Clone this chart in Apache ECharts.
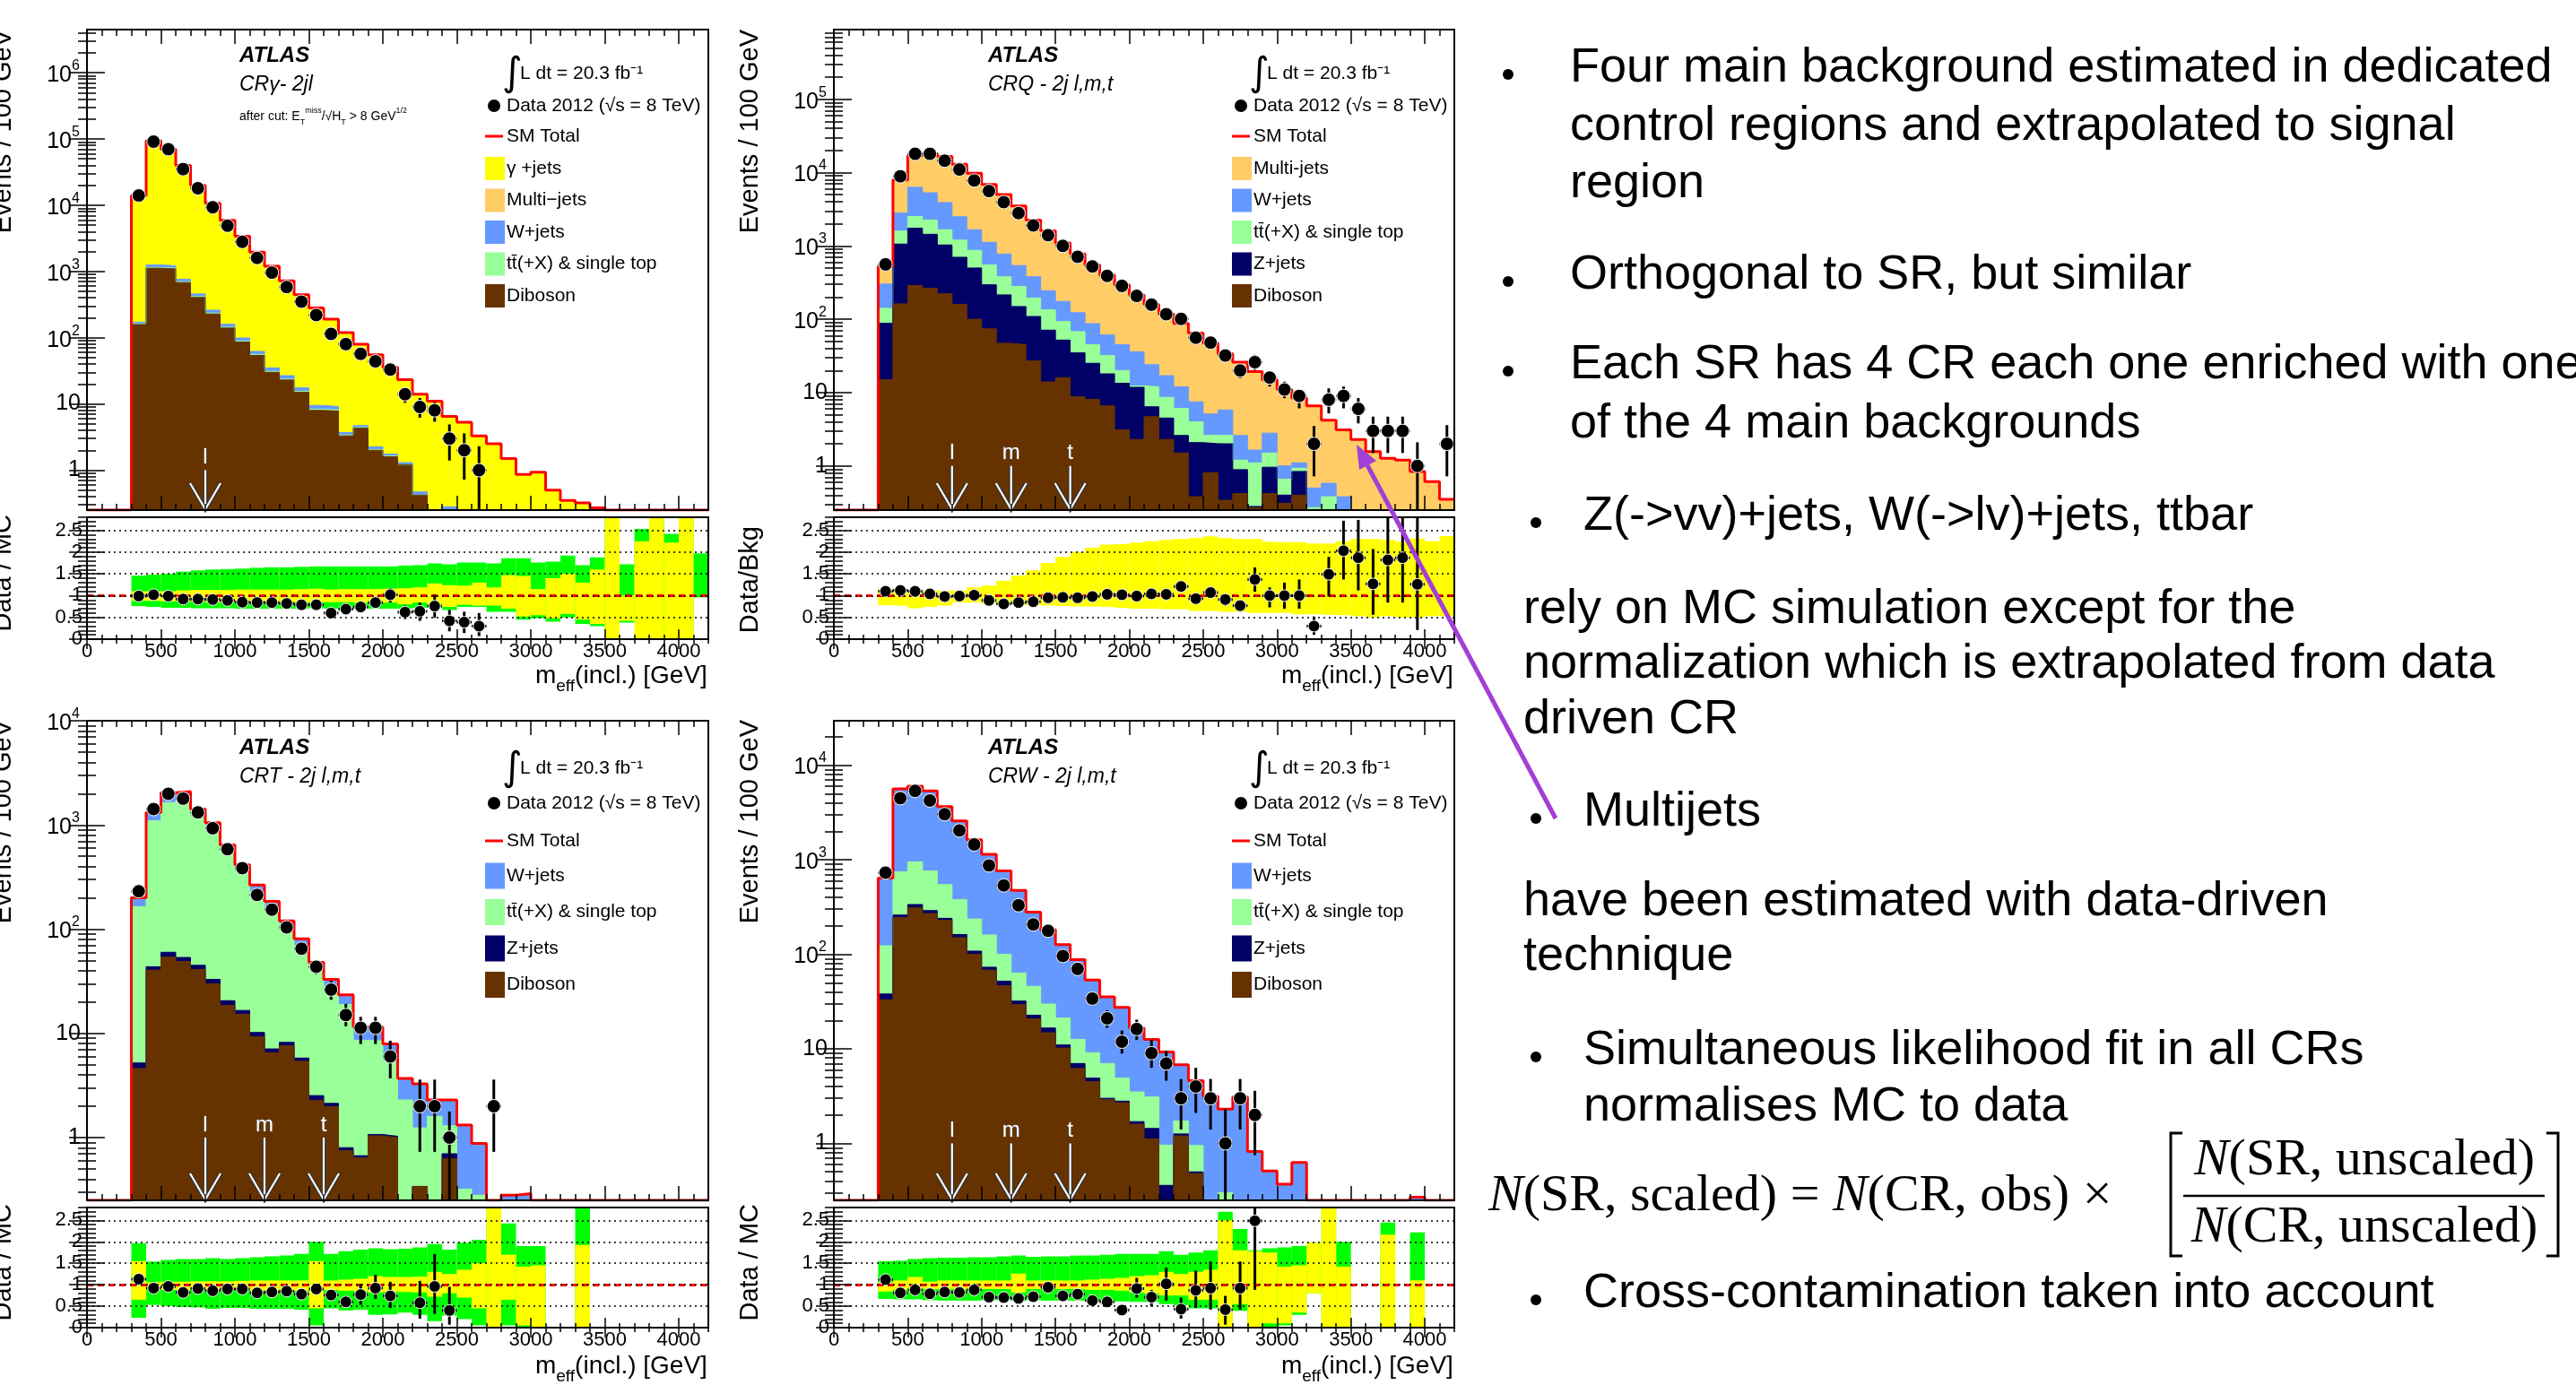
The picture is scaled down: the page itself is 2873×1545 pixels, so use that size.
<!DOCTYPE html>
<html>
<head>
<meta charset="utf-8">
<title>ATLAS control regions</title>
<script src="https://cdn.jsdelivr.net/npm/echarts@6.0.0/dist/echarts.min.js"></script>
<style>
  html, body { margin: 0; padding: 0; background: #fff; }
  #main { width: 2873px; height: 1545px; }
</style>
</head>
<body>
<div id="main"></div>
<script>
const _ = null;

// lower edge of every 100 GeV bin that has content (300 .. 4100 GeV)
const BIN_LO = [300, 400, 500, 600, 700, 800, 900, 1000, 1100, 1200,
  1300, 1400, 1500, 1600, 1700, 1800, 1900, 2000, 2100, 2200,
  2300, 2400, 2500, 2600, 2700, 2800, 2900, 3000, 3100, 3200,
  3300, 3400, 3500, 3600, 3700, 3800, 3900, 4000, 4100];
const X_TICKS = [0, 500, 1000, 1500, 2000, 2500, 3000, 3500, 4000];
const RATIO_TICKS = [0, 0.5, 1, 1.5, 2, 2.5];
const CUTS = [800, 1200, 1600];
const CUT_NAMES = ['l', 'm', 't'];

// ---- CR gamma - 2jl ----
const crgDiboson = [158, 1120, 1090, 680, 405, 228, 140, 86, 54, 30,
  23, 15, 8, 7.8, 3.3, 4.3, 2, 1.6, 1.2, 0.42,
  0, 0, 0, 0, 0, 0, 0, 0, 0, 0,
  0, 0, 0, 0, 0, 0, 0, 0, 0];
const crgTtbar = [4, 30, 30, 20, 12, 7, 4, 3, 2, 1,
  0.7, 0.5, 0.3, 0.3, 0.1, 0.1, 0.05, 0.05, 0, 0,
  0, 0, 0, 0, 0, 0, 0, 0, 0, 0,
  0, 0, 0, 0, 0, 0, 0, 0, 0];
const crgWjets = [10, 100, 100, 60, 40, 25, 15, 10, 6, 4,
  3, 2, 1.2, 1, 0.3, 0.3, 0.2, 0.1, 0.1, 0.05,
  0, 0.28, 0, 0, 0, 0, 0, 0, 0, 0,
  0, 0, 0, 0, 0, 0, 0, 0, 0];
const crgGamma = [13800, 92800, 68800, 39200, 19500, 10400, 5740, 3300, 1890, 1165,
  693, 428, 271, 181, 116, 75, 53, 34, 22, 13.5,
  11, 6.2, 5.3, 3.3, 2.5, 1.5, 0.86, 0.93, 0.5, 0.35,
  0.32, 0.27, 0, 0, 0, 0, 0, 0, 0];
const crgData = [14000, 91000, 70000, 35000, 18000, 9300, 4900, 2800, 1600, 960,
  580, 350, 220, 114, 80, 57, 44, 33, 14, 9,
  8, 3, 2, 1, _, _, _, _, _, _,
  _, _, _, _, _, _, _, _, _];
const crgDataLo = [_, _, _, _, _, _, _, _, _, _,
  _, _, _, _, _, 50, 37.5, 27, 10.4, 6.2,
  5.4, 1.4, 0.72, 0, _, _, _, _, _, _,
  _, _, _, _, _, _, _, _, _];
const crgDataHi = [_, _, _, _, _, _, _, _, _, _,
  _, _, _, _, _, 65, 51, 39, 17.5, 12.3,
  10.5, 4.9, 3.6, 2.3, _, _, _, _, _, _,
  _, _, _, _, _, _, _, _, _];
const crgRatio = [0.99, 1.02, 0.99, 0.92, 0.92, 0.91, 0.89, 0.85, 0.84, 0.84,
  0.82, 0.79, 0.79, 0.60, 0.69, 0.74, 0.84, 1.02, 0.62, 0.64,
  0.76, 0.42, 0.39, 0.30, _, _, _, _, _, _,
  _, _, _, _, _, _, _, _, _];
const crgRatioLo = [_, _, _, _, _, _, _, _, _, _,
  _, _, _, 0.56, 0.63, 0.68, 0.78, 0.84, 0.46, 0.42,
  0.49, 0.18, 0.14, 0.07, _, _, _, _, _, _,
  _, _, _, _, _, _, _, _, _];
const crgRatioHi = [_, _, _, _, _, _, _, _, _, _,
  _, _, _, 0.65, 0.76, 0.80, 0.90, 1.17, 0.77, 0.84,
  1.02, 0.67, 0.63, 0.60, _, _, _, _, _, _,
  _, _, _, _, _, _, _, _, _];
const crgGreenLo = [0.76, 0.74, 0.72, 0.72, 0.71, 0.71, 0.71, 0.70, 0.70, 0.70,
  0.70, 0.70, 0.71, 0.70, 0.70, 0.70, 0.70, 0.70, 0.70, 0.72,
  0.74, 0.67, 0.74, 0.74, 0.63, 0.63, 0.45, 0.48, 0.40, 0.50,
  0.35, 0.30, 0, 0.38, 0.38, 0, 0, 0, 0.96];
const crgGreenHi = [1.46, 1.48, 1.50, 1.55, 1.58, 1.60, 1.61, 1.62, 1.64, 1.65,
  1.65, 1.66, 1.67, 1.67, 1.67, 1.67, 1.67, 1.67, 1.69, 1.70,
  1.74, 1.72, 1.76, 1.76, 1.74, 1.86, 1.86, 1.76, 1.78, 1.92,
  1.70, 1.88, 2.8, 1.72, 2.53, 2.8, 2.42, 2.8, 1.97];
const crgYellowLo = [0.88, 0.88, 0.87, 0.87, 0.87, 0.85, 0.85, 0.85, 0.85, 0.85,
  0.85, 0.85, 0.85, 0.85, 0.85, 0.84, 0.84, 0.84, 0.80, 0.84,
  0.79, 0.74, 0.79, 0.77, 0.77, 0.70, 0.52, 0.55, 0.48, 0.58,
  0.45, 0.35, 0, 0.42, 0, 0, 0, 0, _];
const crgYellowHi = [1.10, 1.10, 1.10, 1.12, 1.13, 1.13, 1.13, 1.14, 1.14, 1.14,
  1.14, 1.15, 1.16, 1.14, 1.15, 1.15, 1.15, 1.16, 1.17, 1.19,
  1.28, 1.24, 1.23, 1.30, 1.19, 1.47, 1.45, 1.15, 1.40, 1.50,
  1.30, 1.60, 2.8, 1.0, 2.25, 2.8, 2.22, 2.8, _];

// ---- CRQ - 2j l,m,t ----
const crqDiboson = [15, 162, 288, 265, 223, 160, 100, 74, 47, 45,
  27, 14, 16, 8.8, 8.1, 6.6, 3.1, 2.3, 4.7, 2.3,
  1.5, 0.38, 0.81, 0.34, 0.42, 0.27, 0.42, 0.31, 0.40, 0,
  0, 0, 0, 0, 0, 0, 0, 0, 0];
const crqZjets = [73, 898, 1452, 1175, 807, 540, 400, 221, 168, 104,
  82, 57, 36, 26, 17, 11.4, 10.3, 9.5, 1.7, 2.2,
  1.1, 1.7, 1.2, 1.66, 0.47, 0.01, 0.54, 0.09, 0.44, 0,
  0, 0, 0, 0, 0, 0, 0, 0, 0];
const crqTtbar = [53, 530, 770, 810, 630, 500, 370, 255, 165, 131,
  85, 63, 41, 33, 20, 14, 6.6, 0.5, 5.6, 4.1,
  3.5, 1.9, 0.6, 0.6, 0.31, 0.82, 0.54, 0.26, 0.09, 0.27,
  0.38, 0.25, 0, 0, 0, 0, 0, 0, 0];
const crqWjets = [161, 1210, 3790, 3050, 2240, 1300, 790, 570, 395, 260,
  186, 111, 82, 55, 42, 29, 25, 23.7, 12, 8.4,
  5.9, 3.5, 2.5, 3.2, 1.4, 0.55, 1.3, 0.34, 0.17, 0.23,
  0.2, 0.13, 0, 0, 0, 0, 0, 0, 0];
const crqMultijet = [223, 5100, 10700, 12700, 12700, 10500, 8140, 5780, 4225, 2960,
  1870, 1355, 925, 657, 463, 339, 250, 179, 134, 101,
  76, 57.5, 41.9, 28.2, 23.4, 17.75, 12.1, 10, 7.3, 6.1,
  3.62, 2.72, 2.3, 1.57, 1.27, 1.2, 0.84, 0.61, 0.35];
const crqData = [560, 8900, 18000, 18000, 14500, 11000, 7800, 5600, 3950, 2800,
  1900, 1400, 1000, 710, 525, 390, 285, 208, 158, 117,
  101, 56, 48, 32, 20, 26, 16, 11, 9, 2,
  8, 9, 6, 3, 3, 3, 1, _, 2];
const crqDataLo = [_, _, _, _, _, _, _, _, _, _,
  _, _, _, _, _, _, _, _, _, _,
  _, 48, 41, 27, 15.7, 20.4, 12.1, 8.4, 6.1, 0.72,
  5.2, 6.1, 3.8, 1.5, 1.5, 1.5, 0, _, 0.72];
const crqDataHi = [_, _, _, _, _, _, _, _, _, _,
  _, _, _, _, _, _, _, _, _, _,
  _, 64, 55, 38, 25, 32.7, 19.4, 14.1, 10.9, 3.5,
  11.4, 12.1, 8.4, 4.7, 4.7, 4.7, 2.1, _, 3.6];
const crqRatio = [1.10, 1.12, 1.10, 1.04, 0.98, 0.99, 1.01, 0.89, 0.81, 0.84,
  0.86, 0.95, 0.96, 0.95, 0.98, 1.03, 1.02, 0.99, 1.04, 1.03,
  1.21, 0.93, 1.07, 0.91, 0.77, 1.37, 1.0, 1.0, 1.0, 0.30,
  1.49, 2.03, 1.87, 1.27, 1.82, 1.87, 1.26, _, _];
const crqRatioLo = [_, _, _, _, _, _, _, _, _, _,
  _, _, _, _, _, _, _, _, _, _,
  1.12, 0.85, 0.96, 0.77, 0.63, 1.09, 0.73, 0.70, 0.70, 0.10,
  0.98, 1.37, 1.12, 0.56, 0.84, 0.84, 0.21, _, _];
const crqRatioHi = [_, _, _, _, _, _, _, _, _, _,
  _, _, _, _, _, _, _, _, _, _,
  1.30, 1.00, 1.17, 1.05, 0.88, 1.65, 1.19, 1.30, 1.37, 0.52,
  1.89, 2.72, 2.74, 2.07, 2.8, 2.8, 2.8, _, _];
const crqBandLo = [0.78, 0.77, 0.71, 0.74, 0.77, 0.84, 0.84, 0.82, 0.81, 0.79,
  0.78, 0.77, 0.76, 0.75, 0.75, 0.74, 0.72, 0.70, 0.70, 0.69,
  0.69, 0.65, 0.65, 0.63, 0.63, 0.60, 0.60, 0.60, 0.57, 0.57,
  0.56, 0.55, 0.53, 0.50, 0.53, 0.50, 0.50, 0.53, 0.53];
const crqBandHi = [1.16, 1.16, 1.12, 1.12, 1.11, 1.12, 1.19, 1.23, 1.34, 1.46,
  1.58, 1.75, 1.89, 2.0, 2.1, 2.17, 2.19, 2.22, 2.25, 2.28,
  2.30, 2.32, 2.36, 2.32, 2.30, 2.30, 2.24, 2.23, 2.23, 2.2,
  2.2, 2.25, 2.3, 2.3, 2.28, 2.24, 2.31, 2.25, 2.37];

// ---- CRT - 2j l,m,t ----
const crtDiboson = [4.6, 40.5, 54, 49, 41, 30, 18.6, 15.3, 9.3, 6.5,
  7.6, 5.4, 2.28, 1.98, 0.75, 0.64, 1.04, 1.0, 0, 0.34,
  0, 0.63, 0, 0, 0, 0, 0, 0, 0, 0,
  0, 0, 0, 0, 0, 0, 0, 0, 0];
const crtZjets = [0.6, 3.1, 6, 4.5, 4, 3, 2, 1.3, 0.9, 0.6,
  0.6, 0.4, 0.25, 0.15, 0.05, 0.03, 0.03, 0.03, 0, 0,
  0, 0.07, 0, 0, 0, 0, 0, 0, 0, 0,
  0, 0, 0, 0, 0, 0, 0, 0, 0];
const crtTtbar = [159, 1056, 1580, 1686, 1155, 867, 534, 338, 215, 150,
  94, 63, 38.5, 25.9, 18.1, 7.9, 7.4, 4.4, 2.3, 0.9,
  1.6, 0.6, 0.32, 0.28, 0, 0, 0, 0, 0, 0,
  0, 0, 0, 0, 0, 0, 0, 0, 0];
const crtWjets = [36, 220, 400, 350, 220, 150, 90, 60, 40, 28,
  18, 12, 7, 5, 4.5, 3, 3, 2.5, 1.4, 2.05,
  0.7, 1.0, 1.0, 0.6, 0, 0.28, 0.29, 0, 0, 0,
  0, 0, 0, 0, 0, 0, 0, 0, 0];
const crtData = [231, 1420, 1990, 1790, 1320, 930, 585, 385, 213, 154,
  104, 65, 43.6, 26.3, 15, 11.3, 11.3, 6, _, 2,
  2, 1, _, _, 2, _, _, _, _, _,
  _, _, _, _, _, _, _, _, _];
const crtDataLo = [_, _, _, _, _, _, _, _, _, _,
  _, _, 37, 21, 11.7, 7.9, 7.9, 3.7, _, 0.73,
  0.73, 0, _, _, 0.73, _, _, _, _, _,
  _, _, _, _, _, _, _, _, _];
const crtDataHi = [_, _, _, _, _, _, _, _, _, _,
  _, _, 50, 32, 19.2, 14.4, 14.4, 8.5, _, 3.6,
  3.6, 1.78, _, _, 3.6, _, _, _, _, _,
  _, _, _, _, _, _, _, _, _];
const crtRatio = [1.13, 0.92, 0.96, 0.82, 0.91, 0.86, 0.90, 0.90, 0.81, 0.83,
  0.85, 0.78, 0.90, 0.76, 0.60, 0.77, 0.92, 0.74, _, 0.58,
  0.96, 0.40, _, _, _, _, _, _, _, _,
  _, _, _, _, _, _, _, _, _];
const crtRatioLo = [_, _, _, _, _, _, _, _, _, _,
  _, 0.70, 0.80, 0.64, 0.46, 0.53, 0.67, 0.46, _, 0.21,
  0.32, 0.07, _, _, _, _, _, _, _, _,
  _, _, _, _, _, _, _, _, _];
const crtRatioHi = [_, _, _, _, _, _, _, _, _, _,
  _, 0.86, 1.00, 0.88, 0.74, 1.02, 1.23, 1.07, _, 1.09,
  1.72, 0.95, _, _, _, _, _, _, _, _,
  _, _, _, _, _, _, _, _, _];
const crtGreenLo = [0.23, 0.53, 0.50, 0.48, 0.47, 0.44, 0.46, 0.46, 0.44, 0.44,
  0.44, 0.42, 0.05, 0.45, 0.40, 0.42, 0.30, 0.31, 0.35, 0.30,
  0.15, 0.28, 0.20, 0.05, 0, 0.05, 0, 0, _, _,
  0, _, _, _, _, _, _, _, _];
const crtGreenHi = [1.97, 1.54, 1.58, 1.60, 1.60, 1.62, 1.60, 1.62, 1.64, 1.66,
  1.68, 1.72, 2.0, 1.72, 1.78, 1.82, 1.85, 1.83, 1.84, 1.87,
  1.95, 1.82, 1.98, 2.05, 2.8, 2.43, 1.9, 1.9, _, _,
  2.8, _, _, _, _, _, _, _, _];
const crtYellowLo = [0.65, 0.88, 0.88, 0.88, 0.88, 0.87, 0.87, 0.87, 0.87, 0.86,
  0.86, 0.86, 0.45, 0.88, 0.86, 0.85, 0.82, 0.84, 0.83, 0.82,
  0.72, 0.80, 0.70, 0.45, 0, 0.65, 0.05, 0, _, _,
  0, _, _, _, _, _, _, _, _];
const crtYellowHi = [1.55, 1.06, 1.07, 1.07, 1.08, 1.08, 1.08, 1.09, 1.10, 1.10,
  1.10, 1.10, 1.55, 1.10, 1.12, 1.14, 1.20, 1.18, 1.18, 1.19,
  1.30, 1.25, 1.35, 1.50, 2.8, 1.70, 1.42, 1.45, _, _,
  1.93, _, _, _, _, _, _, _, _];

// ---- CRW - 2j l,m,t ----
const crwDiboson = [33, 245, 310, 270, 228, 150, 100, 68, 46.5, 29.4,
  20.8, 14.8, 10.2, 6.2, 4.5, 2.9, 2.7, 1.6, 1.12, 0,
  1.2, 0.48, 0, 0, 0, 0, 0, 0, 0, 0,
  0, 0, 0, 0, 0, 0, 0, 0, 0];
const crwZjets = [5, 15, 26, 20, 12, 12, 8, 5, 5.5, 2.6,
  1.9, 1.8, 0.8, 0.8, 0.4, 0.1, 0.1, 0.1, 0.32, 0.36,
  0.06, 0.02, 0, 0, 0, 0, 0, 0, 0, 0,
  0, 0, 0, 0, 0, 0, 0, 0, 0];
const crwTtbar = [85, 485, 614, 470, 305, 216, 128, 87, 48, 31.5,
  23.1, 13.2, 10.2, 5.6, 4.2, 4.0, 2.1, 1.8, 1.66, 0.6,
  0.47, 0.45, 0, 0.3, 0, 0, 0, 0, 0, 0,
  0, 0, 0, 0, 0, 0, 0, 0, 0];
const crwWjets = [517, 4855, 5050, 4590, 3095, 2192, 1394, 980, 660, 411.5,
  234, 153, 105, 75.4, 44.4, 28.5, 22.6, 13.1, 9.5, 8.3,
  5.07, 3.65, 3.15, 2.0, 3.1, 0.82, 0.51, 0.37, 0.63, 0,
  0, 0, 0, 0, 0, 0, 0.27, 0, 0];
const crwData = [730, 4470, 5350, 4230, 3030, 2040, 1450, 870, 535, 330,
  207, 177, 96, 70, 34, 21, 11.9, 16.2, 9.0, 7.0,
  3, 4, 3, 1, 3, 2, _, _, _, _,
  _, _, _, _, _, _, _, _, _];
const crwDataLo = [_, _, _, _, _, _, _, _, _, _,
  _, _, _, _, 28.7, 16.7, 8.9, 12.4, 6.3, 4.6,
  1.4, 2.1, 1.4, 0, 1.4, 0.75, _, _, _, _,
  _, _, _, _, _, _, _, _, _];
const crwDataHi = [_, _, _, _, _, _, _, _, _, _,
  _, _, _, _, 39.2, 25.6, 15.6, 20.4, 12.4, 9.5,
  4.8, 6.3, 4.8, 2.3, 4.8, 3.6, _, _, _, _,
  _, _, _, _, _, _, _, _, _];
const crwRatio = [1.12, 0.81, 0.88, 0.79, 0.83, 0.82, 0.88, 0.71, 0.70, 0.68,
  0.72, 0.94, 0.74, 0.78, 0.63, 0.60, 0.41, 0.91, 0.71, 1.02,
  0.43, 0.87, 0.92, 0.42, 0.92, 2.49, _, _, _, _,
  _, _, _, _, _, _, _, _, _];
const crwRatioLo = [_, _, _, _, _, _, _, _, _, _,
  _, _, _, _, 0.56, 0.52, 0.32, 0.70, 0.49, 0.63,
  0.21, 0.46, 0.42, 0.07, 0.42, 0.88, _, _, _, _,
  _, _, _, _, _, _, _, _, _];
const crwRatioHi = [_, _, _, _, _, _, _, _, _, _,
  _, _, _, _, 0.70, 0.68, 0.48, 1.16, 0.88, 1.40,
  0.70, 1.33, 1.54, 0.74, 1.54, 2.8, _, _, _, _,
  _, _, _, _, _, _, _, _, _];
const crwGreenLo = [0.67, 0.66, 0.66, 0.64, 0.63, 0.63, 0.63, 0.64, 0.64, 0.62,
  0.64, 0.63, 0.63, 0.63, 0.62, 0.62, 0.61, 0.60, 0.60, 0.55,
  0.52, 0.45, 0.45, 0, 0.39, 0, 0, 0.05, 0.3, 0.8,
  0, 0, _, _, 0, _, 0, _, _];
const crwGreenHi = [1.55, 1.56, 1.60, 1.62, 1.63, 1.63, 1.64, 1.64, 1.66, 1.68,
  1.65, 1.66, 1.66, 1.68, 1.68, 1.70, 1.72, 1.72, 1.72, 1.78,
  1.70, 1.75, 1.80, 2.7, 2.3, 1.8, 1.85, 1.87, 1.9, 1.98,
  2.8, 2.0, _, _, 2.45, _, 2.22, _, _];
const crwYellowLo = [0.84, 0.88, 0.85, 0.9, 0.9, 0.9, 0.9, 0.9, 0.9, 0.82,
  0.9, 0.9, 0.9, 0.9, 0.88, 0.88, 0.86, 0.82, 0.80, 0.75,
  0.75, 0.65, 0.65, 0, 0.55, 0, 0.1, 0.1, 0.35, 0.8,
  0, 0, _, _, 0, _, 0, _, _];
const crwYellowHi = [1.05, 1.1, 1.18, 1.07, 1.1, 1.1, 1.1, 1.1, 1.1, 1.26,
  1.1, 1.1, 1.1, 1.1, 1.12, 1.14, 1.16, 1.2, 1.22, 1.3,
  1.25, 1.3, 1.35, 2.5, 1.8, 1.78, 1.75, 1.42, 1.45, 1.98,
  2.8, 1.42, _, _, 2.17, _, 1.1, _, _];

// slide text
const NOTES = [
  { x: 1751, y: 76, text: 'Four main background estimated in dedicated', bullet: 1676 },
  { x: 1751, y: 141, text: 'control regions and extrapolated to signal' },
  { x: 1751, y: 205, text: 'region' },
  { x: 1751, y: 307, text: 'Orthogonal to SR, but similar', bullet: 1676 },
  { x: 1751, y: 407, text: 'Each SR has 4 CR each one enriched with one', bullet: 1676 },
  { x: 1751, y: 473, text: 'of the 4 main backgrounds' },
  { x: 1766, y: 576, text: 'Z(->vv)+jets, W(->lv)+jets, ttbar', bullet: 1707 },
  { x: 1699, y: 680, text: 'rely on MC simulation except for the' },
  { x: 1699, y: 741, text: 'normalization which is extrapolated from data' },
  { x: 1699, y: 803, text: 'driven CR' },
  { x: 1766, y: 906, text: 'Multijets', bullet: 1707 },
  { x: 1699, y: 1006, text: 'have been estimated with data-driven' },
  { x: 1699, y: 1067, text: 'technique' },
  { x: 1766, y: 1172, text: 'Simultaneous likelihood fit in all CRs', bullet: 1707 },
  { x: 1766, y: 1235, text: 'normalises MC to data' },
  { x: 1766, y: 1443, text: 'Cross-contamination taken into account', bullet: 1707 }
];

const ROOT_FONT = 'Liberation Sans';
const COLORS = {
  gamma: '#ffff00', multijet: '#ffcc66', wjets: '#6699ff', ttbar: '#99ff99',
  zjets: '#000066', diboson: '#663300', total: '#ff0000', green: '#00ff00', yellow: '#ffff00'
};
const NAMES = {
  gamma: 'γ +jets', multijetG: 'Multi−jets', multijet: 'Multi-jets', wjets: 'W+jets',
  ttbar: 'tt̄(+X) & single top', zjets: 'Z+jets', diboson: 'Diboson'
};

const PANELS = [
  {
    left: 97, width: 693, mainTop: 33, mainHeight: 536, ratioTop: 577, ratioHeight: 136,
    yMin: 0.25, yMax: 4.47e6, region: 'CRγ- 2jl', ratioTitle: 'Data / MC', cuts: 1,
    layers: [[crgDiboson, 'diboson'], [crgTtbar, 'ttbar'], [crgWjets, 'wjets'], [crgGamma, 'gamma']],
    legend: ['gamma', 'multijetG', 'wjets', 'ttbar', 'diboson'],
    data: [crgData, crgDataLo, crgDataHi], ratio: [crgRatio, crgRatioLo, crgRatioHi],
    bands: [[crgGreenLo, crgGreenHi, 'green'], [crgYellowLo, crgYellowHi, 'yellow']],
    lg: { boxX: 541, lumiY: 82, dataY: 118, totalY: 152, y0: 188, step: 35.5, boxH: 26 },
    atlasY: 62, titleX: 267, axTop: 33, ratioAxTop: 574, xTitleY: 758
  },
  {
    left: 930, width: 692, mainTop: 33, mainHeight: 536, ratioTop: 577, ratioHeight: 136,
    yMin: 0.25, yMax: 8.9e5, region: 'CRQ - 2j l,m,t', ratioTitle: 'Data/Bkg', cuts: 3,
    layers: [[crqDiboson, 'diboson'], [crqZjets, 'zjets'], [crqTtbar, 'ttbar'], [crqWjets, 'wjets'], [crqMultijet, 'multijet']],
    legend: ['multijet', 'wjets', 'ttbar', 'zjets', 'diboson'],
    data: [crqData, crqDataLo, crqDataHi], ratio: [crqRatio, crqRatioLo, crqRatioHi],
    bands: [[crqBandLo, crqBandHi, 'yellow']],
    lg: { boxX: 1374, lumiY: 82, dataY: 118, totalY: 152, y0: 188, step: 35.5, boxH: 26 },
    atlasY: 62, titleX: 1102, axTop: 33, ratioAxTop: 587, xTitleY: 758
  },
  {
    left: 97, width: 693, mainTop: 804, mainHeight: 535, ratioTop: 1347, ratioHeight: 134,
    yMin: 0.25, yMax: 1e4, region: 'CRT - 2j l,m,t', ratioTitle: 'Data / MC', cuts: 3,
    layers: [[crtDiboson, 'diboson'], [crtZjets, 'zjets'], [crtTtbar, 'ttbar'], [crtWjets, 'wjets']],
    legend: ['wjets', 'ttbar', 'zjets', 'diboson'],
    data: [crtData, crtDataLo, crtDataHi], ratio: [crtRatio, crtRatioLo, crtRatioHi],
    bands: [[crtGreenLo, crtGreenHi, 'green'], [crtYellowLo, crtYellowHi, 'yellow']],
    lg: { boxX: 541, lumiY: 857, dataY: 896, totalY: 938, y0: 977, step: 40.5, boxH: 29 },
    atlasY: 834, titleX: 267, axTop: 803, ratioAxTop: 1343, xTitleY: 1528
  },
  {
    left: 930, width: 692, mainTop: 804, mainHeight: 535, ratioTop: 1347, ratioHeight: 134,
    yMin: 0.25, yMax: 2.95e4, region: 'CRW - 2j l,m,t', ratioTitle: 'Data / MC', cuts: 3,
    layers: [[crwDiboson, 'diboson'], [crwZjets, 'zjets'], [crwTtbar, 'ttbar'], [crwWjets, 'wjets']],
    legend: ['wjets', 'ttbar', 'zjets', 'diboson'],
    data: [crwData, crwDataLo, crwDataHi], ratio: [crwRatio, crwRatioLo, crwRatioHi],
    bands: [[crwGreenLo, crwGreenHi, 'green'], [crwYellowLo, crwYellowHi, 'yellow']],
    lg: { boxX: 1374, lumiY: 857, dataY: 896, totalY: 938, y0: 977, step: 40.5, boxH: 29 },
    atlasY: 834, titleX: 1102, axTop: 803, ratioAxTop: 1343, xTitleY: 1528
  }
];

const grids = [], xAxes = [], yAxes = [], series = [], graphics = [];
const TICK = { color: '#000', width: 1.5 };
const POWER_RICH = {
  b: { fontSize: 25, lineHeight: 25, verticalAlign: 'bottom', fontFamily: ROOT_FONT, color: '#000' },
  s: { fontSize: 16, lineHeight: 16, verticalAlign: 'top', fontFamily: ROOT_FONT, color: '#000' },
  h: { fontSize: 4, lineHeight: 31 }
};

function range(from, to, step) {
  const out = [];
  for (let v = from; v <= to + 1e-9; v += step) out.push(Math.round(v * 1000) / 1000);
  return out;
}

function logTicks(yMin, yMax, minor) {
  const out = [];
  for (let e = -1; e <= 7; e++) {
    const ks = minor ? [2, 3, 4, 5, 6, 7, 8, 9] : [1];
    ks.forEach(k => {
      const v = k * Math.pow(10, e);
      if (v >= yMin && v <= yMax * 1.0001) out.push(v);
    });
  }
  return out;
}

function powerLabel(v) {
  const e = Math.round(Math.log10(v));
  if (e === 0) return '{b|1}';
  if (e === 1) return '{b|10}';
  return '{b|10}{s|' + e + '}{h| }';
}

function addFrame(left, top, width, height, isMain, yMin, yMax) {
  const g = grids.length;
  grids.push({ left, top, width, height, show: true, borderColor: '#000', borderWidth: 2,
    backgroundColor: 'transparent', z: 20, containLabel: false, outerBoundsMode: 'none' });
  const xi = xAxes.length, yi = yAxes.length;
  const xBase = { type: 'value', gridIndex: g, min: 0, max: 4200, z: 15,
    axisLine: { show: false }, splitLine: { show: false }, axisLabel: { show: false } };
  ['bottom', 'top'].forEach(pos => {
    xAxes.push(Object.assign({}, xBase, {
      position: pos,
      axisTick: { inside: true, length: isMain ? 16 : 11, customValues: X_TICKS, lineStyle: TICK },
      axisLabel: (!isMain && pos === 'bottom')
        ? { show: true, customValues: X_TICKS, formatter: v => String(v), fontSize: 22, color: '#000',
            fontFamily: ROOT_FONT, margin: 3 }
        : { show: false }
    }));
    xAxes.push(Object.assign({}, xBase, {
      position: pos,
      axisTick: { inside: true, length: isMain ? 7 : 5, customValues: range(0, 4200, 100), lineStyle: TICK }
    }));
  });
  const yBase = isMain
    ? { type: 'log', logBase: 10, min: yMin, max: yMax }
    : { type: 'value', min: 0, max: 2.8, interval: 0.5 };
  const major = isMain ? logTicks(yMin, yMax, false) : RATIO_TICKS;
  const minor = isMain ? logTicks(yMin, yMax, true) : range(0, 2.8, 0.1);
  ['left', 'right'].forEach(pos => {
    yAxes.push(Object.assign({}, yBase, {
      gridIndex: g, position: pos, z: 15, axisLine: { show: false },
      splitLine: (!isMain && pos === 'left')
        ? { show: true, lineStyle: { type: [2, 4], color: '#000', width: 1.5 } } : { show: false },
      axisTick: { inside: true, length: 20, customValues: major, lineStyle: TICK },
      axisLabel: pos === 'left'
        ? (isMain
          ? { show: true, customValues: major, formatter: powerLabel, rich: POWER_RICH, margin: 7 }
          : { show: true, customValues: major, formatter: v => String(v), fontSize: 22, color: '#000',
              fontFamily: ROOT_FONT, margin: 5 })
        : { show: false }
    }));
    yAxes.push(Object.assign({}, yBase, {
      gridIndex: g, position: pos, z: 15, axisLine: { show: false }, splitLine: { show: false },
      axisLabel: { show: false },
      axisTick: { inside: true, length: 10, customValues: minor, lineStyle: TICK }
    }));
  });
  return [xi, yi];
}

// histogram outline as a step line through the bin edges
function stepData(vals, floor) {
  const pts = [[0, floor]];
  vals.forEach((v, i) => pts.push([BIN_LO[i], Math.max(v, floor)]));
  pts.push([BIN_LO[BIN_LO.length - 1] + 100, Math.max(vals[vals.length - 1], floor)]);
  return pts;
}

function pointSeries(xi, yi, vals, los, his, floor, ceil, radius) {
  const data = [];
  vals.forEach((v, i) => {
    if (v == null) return;
    const lo = los[i] == null ? v : Math.max(los[i], floor);
    const hi = his[i] == null ? v : Math.min(his[i], ceil);
    data.push([BIN_LO[i] + 50, v, lo, hi]);
  });
  return {
    type: 'custom', xAxisIndex: xi, yAxisIndex: yi, z: 10, silent: true, data,
    renderItem(params, api) {
      const x = api.value(0), v = api.value(1);
      const c = api.coord([x, v]);
      const lo = api.coord([x, api.value(2)]), hi = api.coord([x, api.value(3)]);
      const l = api.coord([x - 50, v]), r = api.coord([x + 50, v]);
      return { type: 'group', children: [
        { type: 'line', shape: { x1: c[0], y1: hi[1], x2: c[0], y2: lo[1] }, style: { stroke: '#000', lineWidth: 3 } },
        { type: 'line', shape: { x1: l[0], y1: c[1], x2: r[0], y2: c[1] }, style: { stroke: '#000', lineWidth: 3 } },
        { type: 'circle', shape: { cx: c[0], cy: c[1], r: radius }, style: { fill: '#000', stroke: '#fff', lineWidth: 1 } }
      ] };
    }
  };
}

function bandSeries(xi, yi, lo, hi, color) {
  const data = [];
  lo.forEach((l, i) => {
    if (l == null || hi[i] == null) return;
    data.push([BIN_LO[i], hi[i], l, BIN_LO[i] + 100]);
  });
  return {
    type: 'custom', xAxisIndex: xi, yAxisIndex: yi, z: 2, silent: true, data,
    renderItem(params, api) {
      const a = api.coord([api.value(0), api.value(1)]);
      const b = api.coord([api.value(3), api.value(2)]);
      return { type: 'rect', shape: { x: a[0], y: a[1], width: b[0] - a[0], height: b[1] - a[1] },
        style: { fill: color } };
    }
  };
}

function cutSeries(xi, yi, n, floor) {
  return {
    type: 'custom', xAxisIndex: xi, yAxisIndex: yi, z: 8, silent: true,
    data: CUTS.slice(0, n).map(c => [c, 1]),
    renderItem(params, api) {
      const top = api.coord([api.value(0), api.value(1)]);
      const bot = api.coord([api.value(0), floor]);
      const x = top[0], y0 = top[1], y1 = bot[1] - 1;
      const kids = [];
      [['#333', 4.5], ['#fff', 2.2]].forEach(([col, w]) => {
        kids.push({ type: 'line', shape: { x1: x, y1: y0, x2: x, y2: y1 }, style: { stroke: col, lineWidth: w } });
        kids.push({ type: 'polyline', shape: { points: [[x - 17, y1 - 29], [x, y1], [x + 17, y1 - 29]] },
          style: { stroke: col, lineWidth: w, fill: null } });
      });
      kids.push({ type: 'text', x: x, y: y0 - 14, style: { text: CUT_NAMES[params.dataIndex], fill: '#fff',
        stroke: '#555', lineWidth: 1, fontSize: 24, fontFamily: ROOT_FONT, align: 'center', verticalAlign: 'middle' } });
      return { type: 'group', children: kids };
    }
  };
}

function text(x, y, str, style, extra) {
  return Object.assign({ type: 'text', x, y, z: 50, silent: true,
    style: Object.assign({ text: str, fill: '#000', fontFamily: ROOT_FONT, fontSize: 21,
      align: 'left', verticalAlign: 'middle' }, style) }, extra || {});
}

PANELS.forEach(p => {
  const [mx, my] = addFrame(p.left, p.mainTop, p.width, p.mainHeight, true, p.yMin, p.yMax);
  const [rx, ry] = addFrame(p.left, p.ratioTop, p.width, p.ratioHeight, false);

  // stacked backgrounds, cumulated bottom to top, painted from the top layer down
  const cum = BIN_LO.map(() => 0);
  const tops = p.layers.map(([vals]) => { vals.forEach((v, i) => { cum[i] += v; }); return cum.slice(); });
  for (let k = tops.length - 1; k >= 0; k--) {
    const col = COLORS[p.layers[k][1]];
    series.push({ type: 'line', xAxisIndex: mx, yAxisIndex: my, step: 'end', symbol: 'none', silent: true, z: 2,
      data: stepData(tops[k], p.yMin), lineStyle: { color: col, width: 1 },
      areaStyle: { color: col, opacity: 1, origin: 'start' } });
  }
  series.push({ type: 'line', xAxisIndex: mx, yAxisIndex: my, step: 'end', symbol: 'none', silent: true, z: 3,
    data: stepData(tops[tops.length - 1], p.yMin), lineStyle: { color: COLORS.total, width: 3 } });
  series.push(cutSeries(mx, my, p.cuts, p.yMin));
  series.push(pointSeries(mx, my, p.data[0], p.data[1], p.data[2], p.yMin, p.yMax, 7.5));

  // ratio pad
  p.bands.forEach(([lo, hi, c]) => series.push(bandSeries(rx, ry, lo, hi, COLORS[c])));
  series.push({ type: 'line', xAxisIndex: rx, yAxisIndex: ry, data: [], z: 4, silent: true,
    markLine: { silent: true, symbol: ['none', 'none'], animation: false, label: { show: false },
      lineStyle: { color: '#ff0000', width: 3, type: [7, 5] }, data: [{ yAxis: 1 }] } });
  series.push(pointSeries(rx, ry, p.ratio[0], p.ratio[1], p.ratio[2], 0, 2.8, 6.5));

  // labels inside the main pad
  graphics.push(text(p.titleX, p.atlasY, 'ATLAS', { fontSize: 24, fontWeight: 'bold', fontStyle: 'italic' }));
  graphics.push(text(p.titleX, p.atlasY + 33, p.region, { fontSize: 23, fontStyle: 'italic' }));
  if (p.region.indexOf('γ') >= 0) {
    graphics.push(text(p.titleX, p.atlasY + 68,
      '{n|after cut: E}{b|T}{p|miss}{n|/√H}{b|T}{n| > 8 GeV}{p|1/2}', {
        rich: {
          n: { fontSize: 14, lineHeight: 22, verticalAlign: 'middle', fontFamily: ROOT_FONT },
          p: { fontSize: 9, lineHeight: 9, verticalAlign: 'top', fontFamily: ROOT_FONT },
          b: { fontSize: 9, lineHeight: 9, verticalAlign: 'bottom', fontFamily: ROOT_FONT }
        } }));
  }

  // legend
  const L = p.lg;
  graphics.push(text(L.boxX + 19, L.lumiY + 2, '∫', { fontSize: 44, fontFamily: 'DejaVu Sans' }));
  graphics.push(text(L.boxX + 39, L.lumiY, 'L dt = 20.3 fb⁻¹'));
  graphics.push({ type: 'circle', z: 50, silent: true, shape: { cx: L.boxX + 10, cy: L.dataY, r: 7 }, style: { fill: '#000' } });
  graphics.push(text(L.boxX + 24, L.dataY, 'Data 2012 (√s = 8 TeV)'));
  graphics.push({ type: 'line', z: 50, silent: true, shape: { x1: L.boxX, y1: L.totalY, x2: L.boxX + 20, y2: L.totalY },
    style: { stroke: COLORS.total, lineWidth: 3 } });
  graphics.push(text(L.boxX + 24, L.totalY, 'SM Total'));
  p.legend.forEach((key, j) => {
    const y = L.y0 + j * L.step;
    const col = COLORS[key === 'multijetG' ? 'multijet' : key];
    graphics.push({ type: 'rect', z: 50, silent: true, shape: { x: L.boxX, y: y - L.boxH / 2, width: 22, height: L.boxH },
      style: { fill: col } });
    graphics.push(text(L.boxX + 24, y, NAMES[key]));
  });

  // axis titles
  graphics.push(text(21, p.axTop, 'Events / 100 GeV', { fontSize: 29, align: 'right', verticalAlign: 'bottom' },
    { x: p.left - 79, rotation: Math.PI / 2 }));
  graphics.push(text(21, p.ratioAxTop, p.ratioTitle, { fontSize: 29, align: 'right', verticalAlign: 'bottom' },
    { x: p.left - 79, rotation: Math.PI / 2 }));
  graphics.push(text(p.left + p.width, p.xTitleY, '{m|m}{s|eff}{m|(incl.) [GeV]}{h| }', {
    align: 'right', rich: {
      m: { fontSize: 28, lineHeight: 28, verticalAlign: 'top', fontFamily: ROOT_FONT },
      s: { fontSize: 19, lineHeight: 19, verticalAlign: 'bottom', fontFamily: ROOT_FONT },
      h: { fontSize: 4, lineHeight: 35 }
    } }));
});

// slide text on the right
const NOTE_FONT = 'Liberation Sans';
NOTES.forEach(n => {
  graphics.push(text(n.x, n.y, n.text, { fontSize: 54, fontFamily: NOTE_FONT }));
  if (n.bullet) {
    graphics.push({ type: 'circle', z: 50, silent: true, shape: { cx: n.bullet + 6, cy: n.y + 7, r: 6 }, style: { fill: '#000' } });
  }
});

// normalisation formula
const SERIF = 'Liberation Serif';
const mathRich = { i: { fontStyle: 'italic', fontFamily: SERIF, fontSize: 58 } };
graphics.push(text(1660, 1335, '{i|N}(SR, scaled) = {i|N}(CR, obs) ×', { fontSize: 58, fontFamily: SERIF, rich: mathRich }));
graphics.push(text(2637, 1295, '{i|N}(SR, unscaled)', { fontSize: 58, fontFamily: SERIF, align: 'center', rich: mathRich }));
graphics.push(text(2637, 1370, '{i|N}(CR, unscaled)', { fontSize: 58, fontFamily: SERIF, align: 'center', rich: mathRich }));
graphics.push({ type: 'line', z: 50, silent: true, shape: { x1: 2435, y1: 1334, x2: 2838, y2: 1334 }, style: { stroke: '#000', lineWidth: 2.5 } });
graphics.push({ type: 'polyline', z: 50, silent: true, shape: { points: [[2434, 1264], [2421, 1264], [2421, 1401], [2434, 1401]] },
  style: { stroke: '#000', lineWidth: 3, fill: null } });
graphics.push({ type: 'polyline', z: 50, silent: true, shape: { points: [[2840, 1264], [2853, 1264], [2853, 1401], [2840, 1401]] },
  style: { stroke: '#000', lineWidth: 3, fill: null } });

// purple pointer from "Multijets" to the multijet tail
graphics.push({ type: 'line', z: 100, silent: true, shape: { x1: 1735, y1: 913, x2: 1525, y2: 519 },
  style: { stroke: '#a23fd6', lineWidth: 5 } });
graphics.push({ type: 'polygon', z: 100, silent: true, shape: { points: [[1513, 496], [1535, 514], [1516, 524]] },
  style: { fill: '#a23fd6' } });

const chart = echarts.init(document.getElementById('main'), null, { renderer: 'canvas' });
chart.setOption({
  animation: false,
  backgroundColor: '#fff',
  textStyle: { fontFamily: ROOT_FONT },
  grid: grids,
  xAxis: xAxes,
  yAxis: yAxes,
  series: series,
  graphic: { elements: graphics }
});
</script>
</body>
</html>
